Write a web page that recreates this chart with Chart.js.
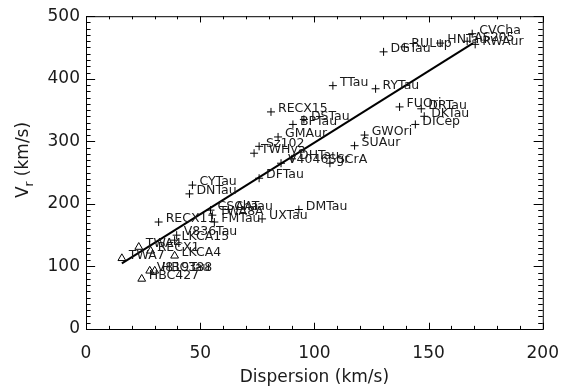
<!DOCTYPE html>
<html>
<head>
<meta charset="utf-8">
<script src="https://cdn.jsdelivr.net/npm/chart.js@4"></script>
<style>
  html, body { margin: 0; padding: 0; background: #fff; }
  #wrap { width: 573px; height: 390px; }
</style>
</head>
<body>
<div id="wrap"><canvas id="chart" width="573" height="390"></canvas></div>
<script>
// 星ごとの速度分散と Vr（+ 印）
const crossNames = ['CVCha', 'AS205', 'RWAur', 'HNTau', 'RULup', 'DGTau', 'TTau', 'RYTau',
  'FUOri', 'DRTau', 'DKTau', 'DICep', 'GWOri', 'SUAur', 'RECX15', 'BPTau', 'DSTau', 'GMAur',
  'Sz102', 'TWHya', 'V4046Sgr', 'DHTau', 'SCrA', 'DFTau', 'CYTau', 'DNTau', 'DMTau', 'UXTau',
  'CSCha', 'AATau', 'TWA8A', 'FMTau', 'RECX11', 'V836Tau', 'LKCA15'];
const crossX = [169.1, 166.9, 170.4, 155.1, 139.4, 130.3, 108.1, 126.8,
  137.3, 146.8, 148.1, 144.2, 122.0, 117.6, 81.0, 90.6, 95.4, 84.1,
  75.8, 73.6, 85.4, 90.2, 106.8, 75.8, 46.6, 45.3, 93.2, 77.1,
  54.5, 62.3, 55.3, 56.2, 31.8, 39.7, 38.8];
const crossY = [472, 460, 455, 457, 451, 443, 389, 384,
  355, 352, 340, 327, 310, 293, 347, 327, 335, 307,
  292, 281, 265, 272, 265, 241, 230, 216, 191, 176,
  190, 191, 182, 171, 171, 150, 142];

// 三角印のグループ
const triNames = ['TWA7', 'TWA4', 'RECX1', 'LKCA4', 'V819Tau', 'HBC388', 'HBC427'];
const triX = [15.7, 23.1, 28.3, 38.8, 27.9, 30.1, 24.4];
const triY = [113, 131, 125, 117, 93, 93, 80];

// フィット直線の両端
const fitX = [15.7, 169.5];
const fitY = [105, 457];

// 軸目盛り
const xTicks = [0, 50, 100, 150, 200];
const yTicks = [0, 100, 200, 300, 400, 500];
const xMinorStep = 10;
const yMinorStep = 10;

const FONT = '"DejaVu Sans", "Liberation Sans", sans-serif';
const INK = '#1a1a1a';

function toPoints(xs, ys) {
  return xs.map((v, i) => ({ x: v, y: ys[i] }));
}

// IDL 風の枠と内向きの目盛り、軸タイトル
const idlFrame = {
  id: 'idlFrame',
  afterDraw(chart) {
    const { ctx, chartArea: a, scales: { x, y } } = chart;
    ctx.save();
    ctx.strokeStyle = '#000';
    ctx.lineWidth = 1;
    ctx.strokeRect(a.left + 0.5, a.top + 0.5, a.right - a.left, a.bottom - a.top);

    const h = a.bottom - a.top, w = a.right - a.left;
    ctx.beginPath();
    for (let v = x.min; v <= x.max; v += xMinorStep) {
      const px = Math.round(x.getPixelForValue(v)) + 0.5;
      const len = xTicks.includes(v) ? h * 0.02 : h * 0.01;
      ctx.moveTo(px, a.bottom); ctx.lineTo(px, a.bottom - len);
      ctx.moveTo(px, a.top); ctx.lineTo(px, a.top + len);
    }
    for (let v = y.min; v <= y.max; v += yMinorStep) {
      const py = Math.round(y.getPixelForValue(v)) + 0.5;
      const len = yTicks.includes(v) ? w * 0.02 : w * 0.01;
      ctx.moveTo(a.left, py); ctx.lineTo(a.left + len, py);
      ctx.moveTo(a.right, py); ctx.lineTo(a.right - len, py);
    }
    ctx.stroke();

    // x 軸タイトル
    ctx.fillStyle = INK;
    ctx.font = '17px ' + FONT;
    ctx.textAlign = 'center';
    ctx.textBaseline = 'middle';
    ctx.fillText('Dispersion (km/s)', (a.left + a.right) / 2, 378);

    // y 軸タイトル（V の下付き r）
    ctx.translate(24, 160);
    ctx.rotate(-Math.PI / 2);
    const big = '17px ' + FONT, small = '12px ' + FONT;
    ctx.font = big;
    const wV = ctx.measureText('V').width;
    const wRest = ctx.measureText(' (km/s)').width;
    ctx.font = small;
    const wR = ctx.measureText('r').width;
    let cx = -(wV + wR + wRest) / 2;
    ctx.textAlign = 'left';
    ctx.font = big;
    ctx.fillText('V', cx, 0);
    cx += wV;
    ctx.font = small;
    ctx.fillText('r', cx, 6);
    cx += wR;
    ctx.font = big;
    ctx.fillText(' (km/s)', cx, 0);
    ctx.restore();
  }
};

// 各点の右側に星名を書く
const pointNames = {
  id: 'pointNames',
  afterDatasetsDraw(chart) {
    const { ctx } = chart;
    ctx.save();
    ctx.fillStyle = INK;
    ctx.font = '12.5px ' + FONT;
    ctx.textAlign = 'left';
    ctx.textBaseline = 'middle';
    chart.data.datasets.forEach((ds, di) => {
      if (!ds.names) return;
      chart.getDatasetMeta(di).data.forEach((el, i) => {
        ctx.fillText(ds.names[i], el.x + 7, el.y - 3);
      });
    });
    ctx.restore();
  }
};

new Chart(document.getElementById('chart'), {
  type: 'scatter',
  data: {
    datasets: [
      {
        data: toPoints(crossX, crossY),
        names: crossNames,
        pointStyle: 'cross',
        radius: 4,
        borderColor: '#000',
        borderWidth: 1
      },
      {
        data: toPoints(triX, triY),
        names: triNames,
        pointStyle: 'triangle',
        radius: 4.5,
        borderColor: '#000',
        backgroundColor: 'rgba(0,0,0,0)',
        borderWidth: 1
      },
      {
        type: 'line',
        data: toPoints(fitX, fitY),
        borderColor: '#000',
        borderWidth: 2,
        pointRadius: 0,
        fill: false
      }
    ]
  },
  options: {
    responsive: false,
    animation: false,
    layout: { padding: { top: 5, right: 28, left: 0, bottom: 0 } },
    plugins: {
      legend: { display: false },
      tooltip: { enabled: false }
    },
    scales: {
      x: {
        type: 'linear',
        min: 0,
        max: 200,
        afterFit: s => { s.height = 61; },
        afterBuildTicks: s => { s.ticks = xTicks.map(v => ({ value: v })); },
        grid: { display: false, drawTicks: false },
        border: { display: false },
        ticks: { color: INK, padding: 14, font: { family: FONT, size: 17 } }
      },
      y: {
        type: 'linear',
        min: 0,
        max: 500,
        afterFit: s => { s.width = 86; },
        afterBuildTicks: s => { s.ticks = yTicks.map(v => ({ value: v })); },
        grid: { display: false, drawTicks: false },
        border: { display: false },
        ticks: { color: INK, padding: 6, font: { family: FONT, size: 17 } }
      }
    }
  },
  plugins: [idlFrame, pointNames]
});
</script>
</body>
</html>
